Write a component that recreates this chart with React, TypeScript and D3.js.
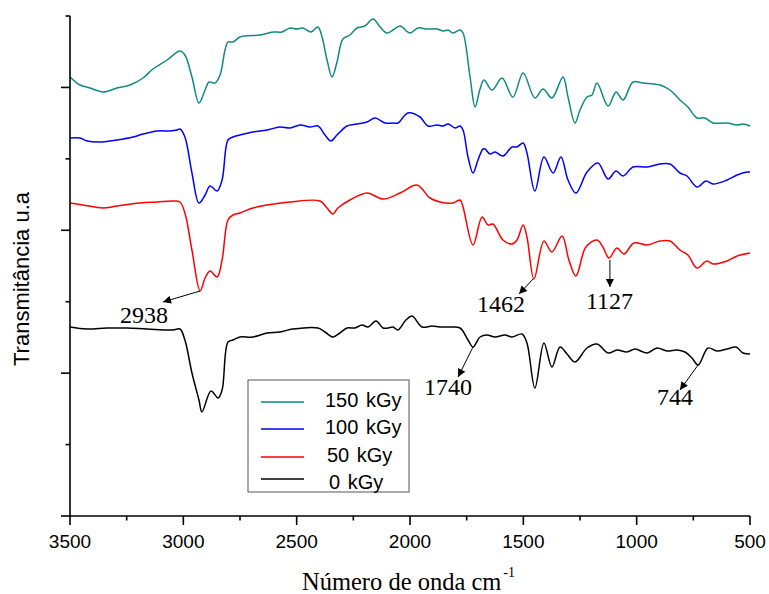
import React from 'react';
import * as d3 from 'd3';

// ---- Data (wavenumber cm-1, transmittance u.a.) ----
const X_TICKS = [3500, 3000, 2500, 2000, 1500, 1000, 500];
const X_MINOR = [3250, 2750, 2250, 1750, 1250, 750];
const Y_STEPS = [0, 1, 2, 3, 4, 5, 6, 7];

const SERIES_NAMES = ['150 kGy', '100 kGy', '50 kGy', '0 kGy'];
const SERIES_COLORS = ['#0e8a80', '#0000ff', '#ff0000', '#000000'];

const S150: [number, number][] = [
  [3500, 439], [3456, 431], [3412, 428], [3354, 424], [3293, 428], [3235, 431], [3178, 438], [3134, 447],
  [3072, 456], [3015, 465], [2993, 461], [2962, 439], [2931, 413], [2904, 426], [2887, 434], [2860, 433],
  [2838, 441], [2816, 466], [2803, 474], [2781, 474], [2750, 479], [2662, 481], [2604, 484], [2565, 484],
  [2529, 488], [2499, 487], [2472, 488], [2437, 484], [2406, 489], [2388, 479], [2366, 456], [2344, 439],
  [2322, 454], [2296, 477], [2265, 481], [2234, 488], [2199, 490], [2163, 497], [2132, 489], [2101, 483],
  [2075, 486], [2044, 490], [2000, 483], [1965, 488], [1925, 487], [1881, 487], [1854, 485], [1832, 486],
  [1810, 483], [1779, 486], [1766, 483], [1735, 439], [1713, 409], [1691, 427], [1674, 436], [1638, 426],
  [1594, 438], [1546, 419], [1501, 443], [1449, 418], [1413, 427], [1374, 418], [1325, 439], [1303, 419],
  [1272, 393], [1250, 406], [1219, 419], [1197, 421], [1175, 433], [1126, 410], [1091, 424], [1060, 416],
  [1016, 434], [972, 433], [897, 431], [853, 426], [809, 416], [774, 409], [734, 398], [699, 398],
  [663, 393], [601, 393], [557, 391], [531, 392], [500, 390],
];

const S100: [number, number][] = [
  [3500, 378], [3456, 378], [3425, 375], [3359, 374], [3293, 376], [3222, 379], [3178, 382], [3116, 385],
  [3059, 385], [3028, 386], [3015, 387], [2993, 379], [2962, 343], [2931, 313], [2904, 321], [2882, 330],
  [2851, 325], [2829, 336], [2803, 376], [2781, 379], [2750, 381], [2693, 384], [2631, 386], [2574, 389],
  [2529, 388], [2485, 391], [2441, 389], [2406, 390], [2375, 381], [2349, 375], [2322, 381], [2278, 390],
  [2234, 392], [2190, 394], [2154, 398], [2110, 393], [2075, 393], [2053, 393], [2009, 403], [1956, 399],
  [1921, 390], [1881, 391], [1854, 390], [1832, 392], [1801, 388], [1779, 390], [1766, 386], [1744, 359],
  [1722, 343], [1700, 356], [1678, 367], [1669, 367], [1647, 362], [1625, 364], [1590, 360], [1550, 369],
  [1528, 369], [1501, 373], [1484, 363], [1449, 325], [1409, 359], [1369, 343], [1334, 359], [1303, 336],
  [1268, 323], [1219, 344], [1171, 353], [1126, 337], [1091, 345], [1060, 340], [1016, 349], [954, 349],
  [897, 352], [853, 352], [809, 343], [778, 340], [734, 329], [694, 335], [663, 332], [601, 336],
  [557, 341], [513, 344], [500, 344],
];

const S50: [number, number][] = [
  [3500, 313], [3443, 311], [3354, 308], [3293, 310], [3191, 313], [3116, 314], [3046, 315], [3015, 314],
  [2993, 303], [2962, 266], [2926, 225], [2904, 238], [2882, 245], [2851, 239], [2829, 256], [2803, 296],
  [2781, 301], [2750, 303], [2693, 308], [2631, 311], [2529, 314], [2397, 315], [2366, 308], [2340, 302],
  [2318, 308], [2265, 316], [2190, 323], [2119, 317], [2044, 323], [1969, 331], [1912, 318], [1868, 314],
  [1810, 313], [1779, 316], [1766, 309], [1722, 271], [1682, 299], [1656, 291], [1634, 292], [1590, 276],
  [1550, 272], [1528, 276], [1501, 291], [1484, 279], [1453, 237], [1409, 275], [1374, 264], [1329, 280],
  [1299, 256], [1268, 240], [1224, 269], [1175, 276], [1149, 269], [1122, 258], [1087, 268], [1056, 262],
  [1012, 273], [954, 271], [897, 275], [853, 275], [809, 266], [774, 261], [734, 248], [690, 255],
  [663, 252], [601, 255], [557, 260], [500, 263],
];

const S0: [number, number][] = [
  [3500, 189], [3425, 187], [3337, 188], [3249, 188], [3160, 187], [3046, 186], [3015, 187], [2993, 176],
  [2962, 143], [2931, 116], [2918, 104], [2878, 125], [2847, 118], [2829, 126], [2803, 174], [2781, 176],
  [2750, 179], [2693, 179], [2631, 183], [2574, 184], [2516, 187], [2406, 188], [2375, 184], [2340, 179],
  [2309, 183], [2278, 188], [2243, 188], [2212, 191], [2185, 189], [2150, 195], [2119, 188], [2097, 188],
  [2075, 189], [2053, 186], [2018, 196], [1991, 200], [1947, 189], [1903, 190], [1868, 189], [1824, 189],
  [1779, 188], [1744, 176], [1722, 169], [1691, 179], [1660, 181], [1625, 179], [1581, 181], [1550, 179],
  [1506, 182], [1484, 173], [1449, 128], [1409, 173], [1374, 149], [1338, 169], [1307, 162], [1272, 154],
  [1219, 168], [1175, 172], [1126, 163], [1087, 166], [1043, 164], [1007, 167], [954, 163], [910, 168],
  [866, 165], [822, 166], [787, 164], [756, 158], [729, 151], [685, 168], [646, 165], [601, 167],
  [562, 169], [531, 163], [500, 162],
];

const SERIES = [S150, S100, S50, S0];

// annotations: label, arrow from (wn, v) to (wn, v), text start at (wn, v)
const ANN_LABELS = ['2938', '1462', '1127', '1740', '744'];
const ANN_FROM: [number, number][] = [[2926, 225], [1457, 237], [1118, 256], [1722, 169], [729, 151]];
const ANN_TO: [number, number][] = [[3090, 214], [1519, 222], [1118, 229], [1788, 139], [809, 126]];
const ANN_TEXT: [number, number][] = [[3279, 193], [1704, 204], [1224, 207], [1938, 121], [910, 111]];

const W = 769;
const H = 594;
const M = { left: 70, right: 750, top: 16, bottom: 516 };

export default function App() {
  const x = d3.scaleLinear().domain([3500, 500]).range([M.left, M.right]);
  const y = d3.scaleLinear().domain([0, 500]).range([M.bottom, M.top]);
  const line = d3
    .line<[number, number]>()
    .x((d) => x(d[0]))
    .y((d) => y(d[1]))
    .curve(d3.curveCatmullRom.alpha(0.5));

  const sans = 'Arial, "Liberation Sans", sans-serif';
  const serif = '"Times New Roman", "Liberation Serif", serif';

  const legendLineY = [402, 429, 457, 479];
  const legendTextY = [407, 434, 462, 489];
  const legendTextX = [325, 325, 327, 329];

  return (
    <svg
      width={W}
      height={H}
      viewBox={`0 0 ${W} ${H}`}
      style={{ position: 'absolute', left: 0, top: 0, background: '#fff' }}
    >
      <defs>
        <marker
          id="arr"
          viewBox="0 0 10 10"
          refX="10"
          refY="5"
          markerWidth="11"
          markerHeight="8"
          markerUnits="userSpaceOnUse"
          orient="auto"
        >
          <path d="M0,0 L10,5 L0,10 z" fill="#000" />
        </marker>
      </defs>
      <rect x={0} y={0} width={W} height={H} fill="#fff" />

      {/* series */}
      {SERIES.map((s, i) => (
        <path
          key={i}
          d={line(s) || ''}
          fill="none"
          stroke={SERIES_COLORS[i]}
          strokeWidth={1.5}
          strokeLinejoin="round"
        />
      ))}

      {/* axes */}
      <line x1={M.left} x2={M.left} y1={M.top} y2={M.bottom} stroke="#000" strokeWidth={1.6} />
      <line x1={M.left} x2={M.right} y1={M.bottom} y2={M.bottom} stroke="#000" strokeWidth={1.6} />
      {Y_STEPS.map((k) => {
        const yy = y((k * 500) / 7);
        const len = k % 2 === 0 ? 9 : 4.5;
        return <line key={k} x1={M.left - len} x2={M.left} y1={yy} y2={yy} stroke="#000" strokeWidth={1.6} />;
      })}
      {X_TICKS.map((t) => (
        <g key={t}>
          <line x1={x(t)} x2={x(t)} y1={M.bottom} y2={M.bottom + 9} stroke="#000" strokeWidth={1.6} />
          <text x={x(t)} y={548} textAnchor="middle" fontFamily={sans} fontSize={19} fill="#000">
            {t}
          </text>
        </g>
      ))}
      {X_MINOR.map((t) => (
        <line key={t} x1={x(t)} x2={x(t)} y1={M.bottom} y2={M.bottom + 4.5} stroke="#000" strokeWidth={1.6} />
      ))}

      {/* axis titles */}
      <text
        transform={`translate(28.5, 279) rotate(-90)`}
        textAnchor="middle"
        fontFamily={sans}
        fontSize={22}
        fill="#000"
      >
        Transmitância u.a
      </text>
      <text x={302} y={590} fontFamily={serif} fontSize={24.5} fill="#000">
        Número de onda cm
        <tspan fontSize={14} dx={2} dy={-13}>-1</tspan>
      </text>

      {/* annotations */}
      {ANN_LABELS.map((lab, i) => (
        <g key={lab}>
          <line
            x1={x(ANN_FROM[i][0])}
            y1={y(ANN_FROM[i][1])}
            x2={x(ANN_TO[i][0])}
            y2={y(ANN_TO[i][1])}
            stroke="#000"
            strokeWidth={1}
            markerEnd="url(#arr)"
          />
          <text
            x={x(ANN_TEXT[i][0])}
            y={y(ANN_TEXT[i][1])}
            fontFamily={serif}
            fontSize={24}
            fill="#000"
          >
            {lab}
          </text>
        </g>
      ))}

      {/* legend */}
      <rect x={248} y={380} width={161} height={112} fill="#fff" stroke="#555" strokeWidth={1} />
      {SERIES_NAMES.map((n, i) => (
        <g key={n}>
          <line
            x1={261}
            x2={304}
            y1={legendLineY[i]}
            y2={legendLineY[i]}
            stroke={SERIES_COLORS[i]}
            strokeWidth={2}
            opacity={0.75}
          />
          <text
            x={legendTextX[i]}
            y={legendTextY[i]}
            fontFamily={sans}
            fontSize={20}
            wordSpacing={2}
            fill="#000"
          >
            {n}
          </text>
        </g>
      ))}
    </svg>
  );
}
